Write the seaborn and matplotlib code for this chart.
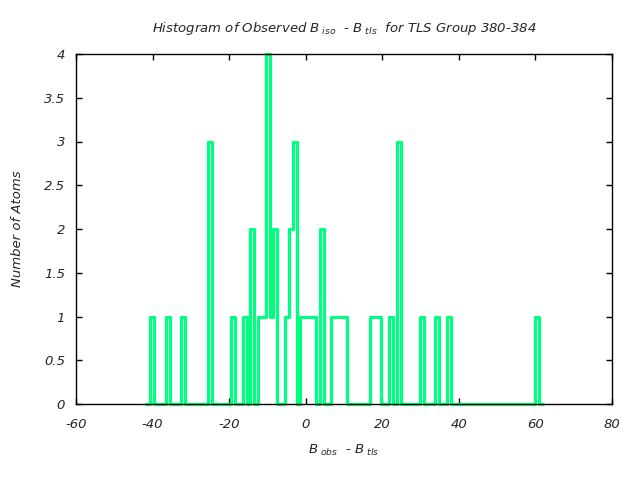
import matplotlib
matplotlib.use('Agg')
import matplotlib.pyplot as plt
import seaborn as sns
import pandas as pd

# histogram bins (centres of non-empty bins) and atom counts
bin_centers = [-40.1, -36.1, -32.1, -25.0, -19.0, -16.0, -14.0, -11.9, -10.9, -9.9,
               -8.9, -7.9, -4.9, -3.9, -2.9, -0.9, 0.1, 1.1, 2.1, 4.1,
               7.2, 8.2, 9.2, 10.2, 17.2, 18.2, 19.2, 22.2, 24.3, 30.3,
               34.3, 37.3, 60.5]
atom_counts = [1, 1, 1, 3, 1, 1, 2, 1, 1, 4,
               1, 2, 1, 2, 3, 1, 1, 1, 1, 2,
               1, 1, 1, 1, 1, 1, 1, 1, 3, 1,
               1, 1, 1]
bin_start = -41.6
bin_stop = 61.96
n_bins = 103

x_ticks = [-60, -40, -20, 0, 20, 40, 60, 80]
y_ticks = [0, 0.5, 1, 1.5, 2, 2.5, 3, 3.5, 4]
y_tick_labels = ['0', '0.5', '1', '1.5', '2', '2.5', '3', '3.5', '4']

df = pd.DataFrame({'diff': bin_centers, 'count': atom_counts})

sns.set_theme(style='white')
plt.rcParams['font.family'] = ['DejaVu Sans']
plt.rcParams['mathtext.fontset'] = 'custom'
plt.rcParams['mathtext.it'] = 'DejaVu Sans:italic'
plt.rcParams['mathtext.rm'] = 'DejaVu Sans:italic'

fig = plt.figure(figsize=(6.4, 4.8), dpi=100)
ax = fig.add_axes([76 / 640, 1 - 404 / 480, 536 / 640, 350 / 480])

sns.histplot(data=df, x='diff', weights='count', bins=n_bins,
             binrange=(bin_start, bin_stop), element='step', fill=False,
             color='#00ff80', linewidth=2.3, ax=ax)
for line in ax.lines:
    line.set_clip_on(False)

ax.set_xlim(-60, 80)
ax.set_ylim(0, 4)
ax.set_xticks(x_ticks)
ax.set_xticklabels([str(t) for t in x_ticks])
ax.set_yticks(y_ticks)
ax.set_yticklabels(y_tick_labels)

for side in ['left', 'right', 'top', 'bottom']:
    ax.spines[side].set_visible(True)
    ax.spines[side].set_color('black')
    ax.spines[side].set_linewidth(1.0)
ax.tick_params(direction='in', length=4, width=1, color='black',
               top=True, right=True, bottom=True, left=True,
               labelsize=9.5)
ax.tick_params(axis='x', pad=10)
ax.tick_params(axis='y', pad=8)
for lab in ax.get_xticklabels() + ax.get_yticklabels():
    lab.set_fontstyle('italic')

ax.set_title(r'Histogram of Observed $B_{\ iso}$  - $B_{\ tls}$  for TLS Group 380-384',
             fontsize=9.5, style='italic', pad=16)
ax.set_xlabel(r'$B_{\ obs}$  - $B_{\ tls}$', fontsize=9.5, style='italic', labelpad=9)
ax.set_ylabel('Number of Atoms', fontsize=9.5, style='italic', labelpad=14)

fig.savefig('out.png', dpi=100)
